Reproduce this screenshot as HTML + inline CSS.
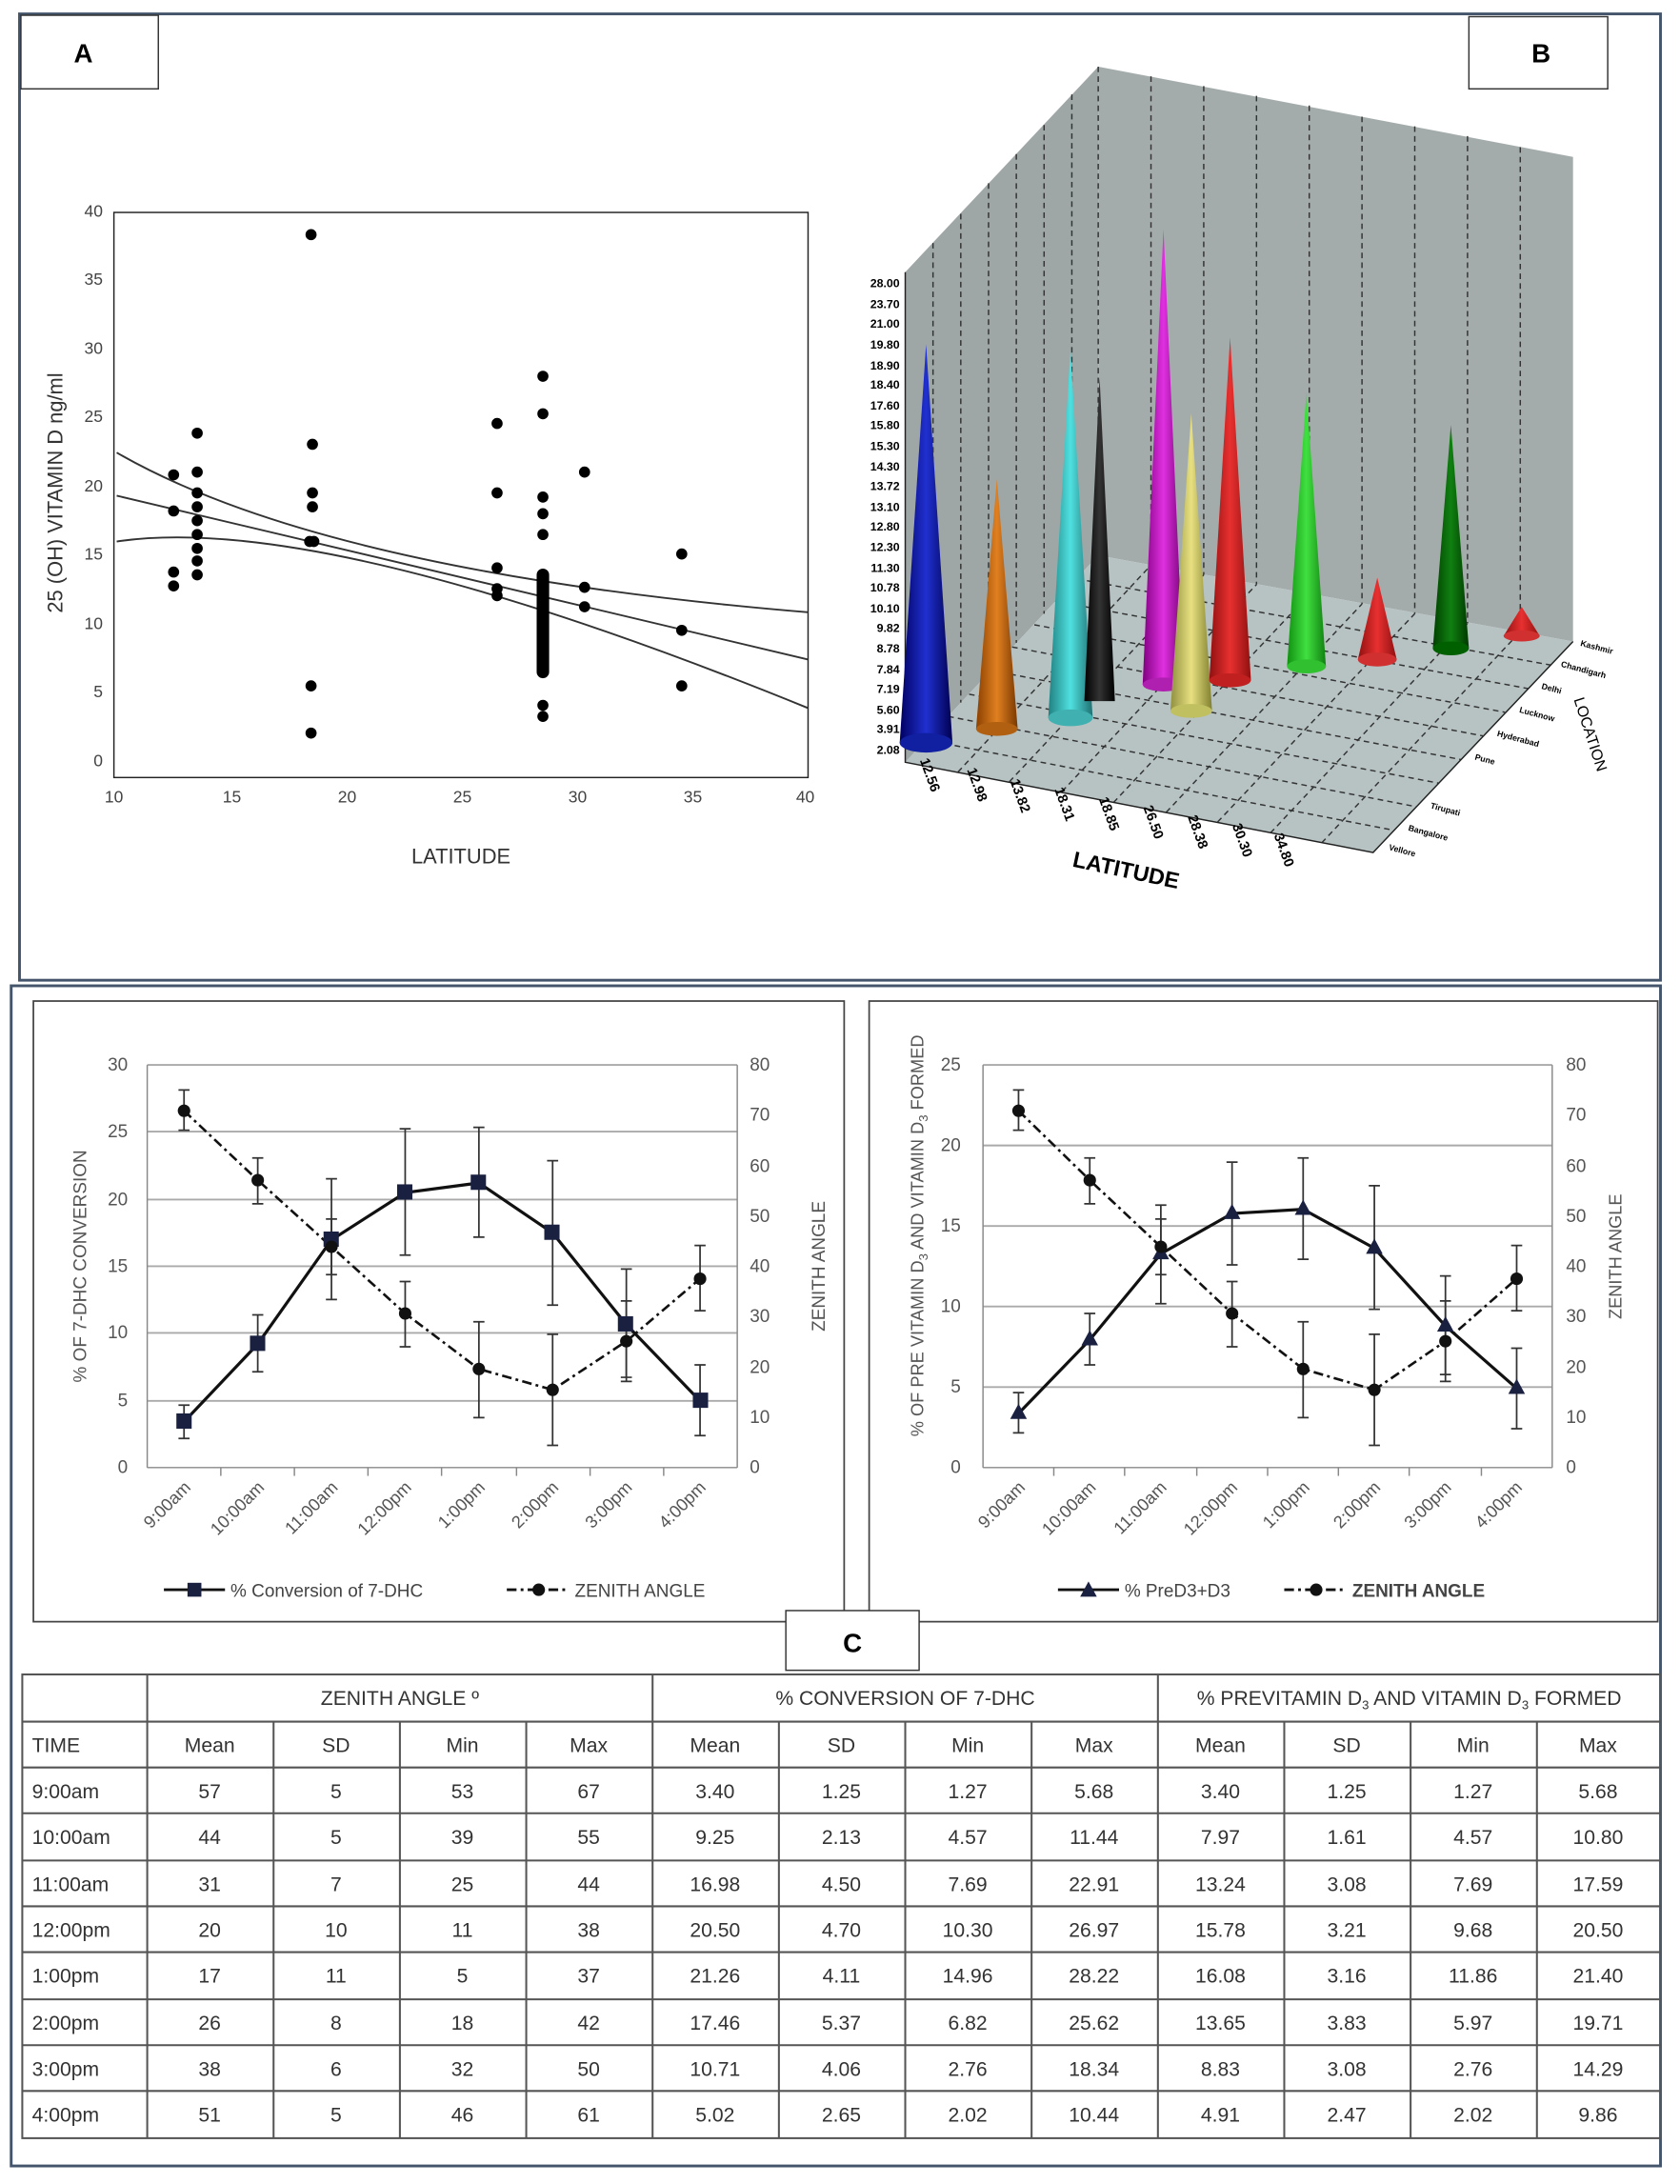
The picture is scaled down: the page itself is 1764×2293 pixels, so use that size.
<!DOCTYPE html>
<html><head><meta charset="utf-8"><style>
html,body{margin:0;padding:0;background:#fff}
svg{display:block}
</style></head><body>
<svg width="1764" height="2293" viewBox="0 0 1210 1573" xmlns="http://www.w3.org/2000/svg" font-family="'Liberation Sans',sans-serif">
<defs>
<linearGradient id="cb" x1="0" x2="1"><stop offset="0" stop-color="#000060"/><stop offset=".5" stop-color="#2030d0"/><stop offset="1" stop-color="#000050"/></linearGradient>
<linearGradient id="co" x1="0" x2="1"><stop offset="0" stop-color="#8a4000"/><stop offset=".5" stop-color="#e08020"/><stop offset="1" stop-color="#7a3800"/></linearGradient>
<linearGradient id="cc" x1="0" x2="1"><stop offset="0" stop-color="#208080"/><stop offset=".5" stop-color="#50e0e0"/><stop offset="1" stop-color="#207070"/></linearGradient>
<linearGradient id="ck" x1="0" x2="1"><stop offset="0" stop-color="#000"/><stop offset=".5" stop-color="#333"/><stop offset="1" stop-color="#000"/></linearGradient>
<linearGradient id="cm" x1="0" x2="1"><stop offset="0" stop-color="#800080"/><stop offset=".5" stop-color="#e030e0"/><stop offset="1" stop-color="#700070"/></linearGradient>
<linearGradient id="cy" x1="0" x2="1"><stop offset="0" stop-color="#909040"/><stop offset=".5" stop-color="#e8e080"/><stop offset="1" stop-color="#808030"/></linearGradient>
<linearGradient id="cr" x1="0" x2="1"><stop offset="0" stop-color="#901010"/><stop offset=".5" stop-color="#e83030"/><stop offset="1" stop-color="#901010"/></linearGradient>
<linearGradient id="cg" x1="0" x2="1"><stop offset="0" stop-color="#109010"/><stop offset=".5" stop-color="#40e040"/><stop offset="1" stop-color="#108010"/></linearGradient>
<linearGradient id="cd" x1="0" x2="1"><stop offset="0" stop-color="#004000"/><stop offset=".5" stop-color="#108010"/><stop offset="1" stop-color="#003800"/></linearGradient>
</defs>
<!-- top panel -->
<rect x="14" y="10" width="1182" height="696" fill="none" stroke="#44546a" stroke-width="2"/>
<rect x="15" y="11" width="99" height="53" fill="#fff" stroke="#333" stroke-width="1"/>
<text x="60" y="45" font-size="19" font-weight="bold" text-anchor="middle">A</text>
<rect x="1058" y="12" width="100" height="52" fill="#fff" stroke="#333" stroke-width="1"/>
<text x="1110" y="45" font-size="19" font-weight="bold" text-anchor="middle">B</text>

<!-- chart A -->
<rect x="82" y="153" width="500" height="407" fill="none" stroke="#222" stroke-width="1"/>
<g font-size="12" fill="#444" text-anchor="end">
<text x="74" y="552">0</text><text x="74" y="502">5</text><text x="74" y="453">10</text><text x="74" y="403">15</text><text x="74" y="354">20</text><text x="74" y="304">25</text><text x="74" y="255">30</text><text x="74" y="205">35</text><text x="74" y="156">40</text>
</g>
<g font-size="12" fill="#444" text-anchor="middle">
<text x="82" y="578">10</text><text x="167" y="578">15</text><text x="250" y="578">20</text><text x="333" y="578">25</text><text x="416" y="578">30</text><text x="499" y="578">35</text><text x="580" y="578">40</text>
</g>
<text x="332" y="622" font-size="15" fill="#333" text-anchor="middle">LATITUDE</text>
<text transform="translate(45,355) rotate(-90)" font-size="15" fill="#333" text-anchor="middle">25 (OH) VITAMIN D ng/ml</text>
<g fill="none" stroke="#333" stroke-width="1.3">
<path d="M84,357 L582,475"/>
<path d="M84,326 Q233,412 582,441"/>
<path d="M84,390 Q233,368 582,510"/>
</g>
<line x1="391" y1="414" x2="391" y2="484" stroke="#000" stroke-width="9" stroke-linecap="round"/>
<g fill="#000">
<circle cx="125" cy="342" r="4"/><circle cx="125" cy="368" r="4"/><circle cx="125" cy="412" r="4"/><circle cx="125" cy="422" r="4"/>
<circle cx="142" cy="312" r="4"/><circle cx="142" cy="340" r="4"/><circle cx="142" cy="355" r="4"/><circle cx="142" cy="365" r="4"/><circle cx="142" cy="375" r="4"/><circle cx="142" cy="385" r="4"/><circle cx="142" cy="395" r="4"/><circle cx="142" cy="404" r="4"/><circle cx="142" cy="414" r="4"/>
<circle cx="224" cy="169" r="4"/><circle cx="225" cy="320" r="4"/><circle cx="225" cy="355" r="4"/><circle cx="225" cy="365" r="4"/><circle cx="223" cy="390" r="4"/><circle cx="226" cy="390" r="4"/><circle cx="224" cy="494" r="4"/><circle cx="224" cy="528" r="4"/>
<circle cx="358" cy="305" r="4"/><circle cx="358" cy="355" r="4"/><circle cx="358" cy="409" r="4"/><circle cx="358" cy="424" r="4"/><circle cx="358" cy="429" r="4"/>
<circle cx="391" cy="271" r="4"/><circle cx="391" cy="298" r="4"/><circle cx="391" cy="358" r="4"/><circle cx="391" cy="370" r="4"/><circle cx="391" cy="385" r="4"/><circle cx="391" cy="508" r="4"/><circle cx="391" cy="516" r="4"/>
<circle cx="421" cy="340" r="4"/><circle cx="421" cy="423" r="4"/><circle cx="421" cy="437" r="4"/>
<circle cx="491" cy="399" r="4"/><circle cx="491" cy="454" r="4"/><circle cx="491" cy="494" r="4"/>
</g>

<!-- chart B -->
<polygon points="652,196 791,48 791,400 652,549" fill="#9ea6a6"/>
<polygon points="791,48 1133,113 1133,462 791,400" fill="#a4acab"/>
<polygon points="652,549 791,400 1133,462 989,614" fill="#b7c2c2"/>
<g stroke="#333" stroke-width="1" stroke-dasharray="4,3" fill="none">
<line x1="672" y1="175" x2="672" y2="527"/><line x1="692" y1="154" x2="692" y2="506"/><line x1="712" y1="132" x2="712" y2="485"/><line x1="732" y1="111" x2="732" y2="463"/><line x1="752" y1="90" x2="752" y2="442"/><line x1="772" y1="68" x2="772" y2="420"/>
<line x1="791" y1="48" x2="791" y2="400"/>
<line x1="829" y1="55" x2="829" y2="407"/><line x1="867" y1="62" x2="867" y2="414"/><line x1="905" y1="69" x2="905" y2="421"/><line x1="943" y1="76" x2="943" y2="428"/><line x1="981" y1="84" x2="981" y2="435"/><line x1="1019" y1="91" x2="1019" y2="442"/><line x1="1057" y1="98" x2="1057" y2="449"/><line x1="1095" y1="106" x2="1095" y2="455"/>
<line x1="690" y1="556" x2="829" y2="407"/><line x1="727" y1="563" x2="867" y2="414"/><line x1="765" y1="570" x2="905" y2="421"/><line x1="802" y1="578" x2="943" y2="428"/><line x1="840" y1="585" x2="981" y2="435"/><line x1="877" y1="592" x2="1019" y2="442"/><line x1="915" y1="600" x2="1057" y2="449"/><line x1="952" y1="607" x2="1095" y2="455"/>
<line x1="667" y1="533" x2="1004" y2="598"/><line x1="683" y1="516" x2="1020" y2="581"/><line x1="698" y1="500" x2="1036" y2="564"/><line x1="714" y1="483" x2="1052" y2="547"/><line x1="729" y1="466" x2="1068" y2="530"/><line x1="745" y1="450" x2="1084" y2="513"/><line x1="760" y1="433" x2="1101" y2="496"/><line x1="776" y1="417" x2="1117" y2="479"/>
</g>
<g stroke="#222" stroke-width="1" fill="none"><polyline points="652,196 652,549 989,614 1133,462"/></g>
<g font-size="8.5" font-weight="bold" text-anchor="end" fill="#000">
<text x="648" y="207">28.00</text><text x="648" y="222">23.70</text><text x="648" y="236">21.00</text><text x="648" y="251">19.80</text><text x="648" y="266">18.90</text><text x="648" y="280">18.40</text><text x="648" y="295">17.60</text><text x="648" y="309">15.80</text><text x="648" y="324">15.30</text><text x="648" y="339">14.30</text><text x="648" y="353">13.72</text><text x="648" y="368">13.10</text><text x="648" y="382">12.80</text><text x="648" y="397">12.30</text><text x="648" y="412">11.30</text><text x="648" y="426">10.78</text><text x="648" y="441">10.10</text><text x="648" y="455">9.82</text><text x="648" y="470">8.78</text><text x="648" y="485">7.84</text><text x="648" y="499">7.19</text><text x="648" y="514">5.60</text><text x="648" y="528">3.91</text><text x="648" y="543">2.08</text>
</g>
<!-- cones -->
<g>
<polygon points="667,248 648,535 686,535" fill="url(#cb)"/><ellipse cx="667" cy="535" rx="19" ry="7" fill="#1020a0"/>
<polygon points="718,345 703,525 733,525" fill="url(#co)"/><ellipse cx="718" cy="525" rx="15" ry="5" fill="#b06010"/>
<polygon points="771,252 755,517 787,517" fill="url(#cc)"/><ellipse cx="771" cy="517" rx="16" ry="6" fill="#40b0b0"/>
<polygon points="792,272 781,505 803,505" fill="url(#ck)"/>
<polygon points="838,165 823,493 853,493" fill="url(#cm)"/><ellipse cx="838" cy="493" rx="15" ry="5" fill="#b020b0"/>
<polygon points="858,298 843,512 873,512" fill="url(#cy)"/><ellipse cx="858" cy="512" rx="15" ry="5" fill="#c0c060"/>
<polygon points="886,243 871,490 901,490" fill="url(#cr)"/><ellipse cx="886" cy="490" rx="15" ry="5" fill="#c02020"/>
<polygon points="941,282 927,480 955,480" fill="url(#cg)"/><ellipse cx="941" cy="480" rx="14" ry="5" fill="#30c030"/>
<polygon points="992,416 978,475 1006,475" fill="url(#cr)"/><ellipse cx="992" cy="475" rx="14" ry="5" fill="#d03030"/>
<polygon points="1045,306 1032,467 1058,467" fill="url(#cd)"/><ellipse cx="1045" cy="467" rx="13" ry="5" fill="#006000"/>
<polygon points="1096,437 1083,458 1109,458" fill="url(#cr)"/><ellipse cx="1096" cy="458" rx="13" ry="4" fill="#d03030"/>
</g>
<g font-size="10" font-weight="bold" fill="#000">
<text transform="translate(671,571) rotate(70)" text-anchor="end">12.56</text>
<text transform="translate(705,578) rotate(70)" text-anchor="end">12.98</text>
<text transform="translate(736,586) rotate(70)" text-anchor="end">13.82</text>
<text transform="translate(768,592) rotate(70)" text-anchor="end">18.31</text>
<text transform="translate(800,599) rotate(70)" text-anchor="end">18.85</text>
<text transform="translate(832,605) rotate(70)" text-anchor="end">26.50</text>
<text transform="translate(864,612) rotate(70)" text-anchor="end">28.38</text>
<text transform="translate(896,618) rotate(70)" text-anchor="end">30.30</text>
<text transform="translate(926,625) rotate(70)" text-anchor="end">34.80</text>
</g>
<text transform="translate(810,632) rotate(12)" font-size="16" font-weight="bold" text-anchor="middle">LATITUDE</text>
<text transform="translate(1142,530) rotate(72)" font-size="11" text-anchor="middle">LOCATION</text>
<g font-size="6" font-weight="bold" fill="#000">
<text transform="translate(1000,612) rotate(15)">Vellore</text>
<text transform="translate(1014,598) rotate(15)">Bangalore</text>
<text transform="translate(1030,582) rotate(15)">Tirupati</text>
<text transform="translate(1062,547) rotate(15)">Pune</text>
<text transform="translate(1078,530) rotate(15)">Hyderabad</text>
<text transform="translate(1094,513) rotate(15)">Lucknow</text>
<text transform="translate(1110,496) rotate(15)">Delhi</text>
<text transform="translate(1124,480) rotate(15)">Chandigarh</text>
<text transform="translate(1138,465) rotate(15)">Kashmir</text>
</g>

<!-- bottom panel -->
<rect x="8" y="710" width="1188" height="850" fill="none" stroke="#44546a" stroke-width="2"/>
<rect x="24" y="721" width="584" height="447" fill="none" stroke="#444" stroke-width="1.2"/>
<rect x="626" y="721" width="568" height="447" fill="none" stroke="#444" stroke-width="1.2"/>

<!-- left chart C -->
<g stroke="#aaa" stroke-width="1.3">
<line x1="106" y1="1009" x2="531" y2="1009"/><line x1="106" y1="960" x2="531" y2="960"/><line x1="106" y1="912" x2="531" y2="912"/><line x1="106" y1="864" x2="531" y2="864"/><line x1="106" y1="815" x2="531" y2="815"/><line x1="106" y1="767" x2="531" y2="767"/>
</g>
<g stroke="#888" stroke-width="1">
<line x1="106" y1="767" x2="106" y2="1057"/><line x1="531" y1="767" x2="531" y2="1057"/><line x1="106" y1="1057" x2="531" y2="1057"/>
<line x1="159" y1="1057" x2="159" y2="1063"/><line x1="212" y1="1057" x2="212" y2="1063"/><line x1="265" y1="1057" x2="265" y2="1063"/><line x1="318" y1="1057" x2="318" y2="1063"/><line x1="372" y1="1057" x2="372" y2="1063"/><line x1="425" y1="1057" x2="425" y2="1063"/><line x1="478" y1="1057" x2="478" y2="1063"/>
</g>
<g font-size="13" fill="#555" text-anchor="end">
<text x="92" y="1061">0</text><text x="92" y="1013">5</text><text x="92" y="964">10</text><text x="92" y="916">15</text><text x="92" y="868">20</text><text x="92" y="819">25</text><text x="92" y="771">30</text>
</g>
<g font-size="13" fill="#555">
<text x="540" y="1061">0</text><text x="540" y="1025">10</text><text x="540" y="989">20</text><text x="540" y="952">30</text><text x="540" y="916">40</text><text x="540" y="880">50</text><text x="540" y="844">60</text><text x="540" y="807">70</text><text x="540" y="771">80</text>
</g>
<g font-size="12.5" fill="#555" text-anchor="end">
<text transform="translate(138,1072) rotate(-45)">9:00am</text>
<text transform="translate(191,1072) rotate(-45)">10:00am</text>
<text transform="translate(244,1072) rotate(-45)">11:00am</text>
<text transform="translate(297,1072) rotate(-45)">12:00pm</text>
<text transform="translate(350,1072) rotate(-45)">1:00pm</text>
<text transform="translate(403,1072) rotate(-45)">2:00pm</text>
<text transform="translate(456,1072) rotate(-45)">3:00pm</text>
<text transform="translate(509,1072) rotate(-45)">4:00pm</text>
</g>
<text transform="translate(62,912) rotate(-90)" font-size="13" fill="#555" text-anchor="middle">% OF 7-DHC CONVERSION</text>
<text transform="translate(594,912) rotate(-90)" font-size="13" fill="#555" text-anchor="middle">ZENITH ANGLE</text>
<g stroke="#333" stroke-width="1.2">
<path d="M132.5,1012v24M128.5,1012h8M128.5,1036h8 M185.6,947v41M181.6,947h8M181.6,988h8 M238.7,849v87M234.7,849h8M234.7,936h8 M291.8,813v91M287.8,813h8M287.8,904h8 M344.9,812v79M340.9,812h8M340.9,891h8 M398,836v104M394,836h8M394,940h8 M451.1,914v78M447.1,914h8M447.1,992h8 M504.2,983v51M500.2,983h8M500.2,1034h8"/>
<path d="M132.5,785v29M128.5,785h8M128.5,814h8 M185.6,834v33M181.6,834h8M181.6,867h8 M238.7,878v40M234.7,878h8M234.7,918h8 M291.8,923v47M287.8,923h8M287.8,970h8 M344.9,952v69M340.9,952h8M340.9,1021h8 M398,961v80M394,961h8M394,1041h8 M451.1,937v58M447.1,937h8M447.1,995h8 M504.2,897v47M500.2,897h8M500.2,944h8"/>
</g>
<polyline points="132.5,1024 185.6,968 238.7,893 291.8,859 344.9,852 398,888 451.1,954 504.2,1009" fill="none" stroke="#111" stroke-width="2.2"/>
<polyline points="132.5,800 185.6,850 238.7,898 291.8,946 344.9,986 398,1001 451.1,966 504.2,921" fill="none" stroke="#111" stroke-width="1.8" stroke-dasharray="7,3,2,3"/>
<g fill="#1a2040">
<rect x="127" y="1018" width="11" height="11"/><rect x="180" y="962" width="11" height="11"/><rect x="233" y="887" width="11" height="11"/><rect x="286" y="853" width="11" height="11"/><rect x="339" y="846" width="11" height="11"/><rect x="392" y="882" width="11" height="11"/><rect x="445" y="948" width="11" height="11"/><rect x="499" y="1003" width="11" height="11"/>
</g>
<g fill="#111">
<circle cx="132.5" cy="800" r="4.5"/><circle cx="185.6" cy="850" r="4.5"/><circle cx="238.7" cy="898" r="4.5"/><circle cx="291.8" cy="946" r="4.5"/><circle cx="344.9" cy="986" r="4.5"/><circle cx="398" cy="1001" r="4.5"/><circle cx="451.1" cy="966" r="4.5"/><circle cx="504.2" cy="921" r="4.5"/>
</g>
<line x1="118" y1="1145" x2="162" y2="1145" stroke="#111" stroke-width="2"/><rect x="135" y="1140" width="10" height="10" fill="#1a2040"/>
<text x="166" y="1150" font-size="13" fill="#444">% Conversion of 7-DHC</text>
<line x1="365" y1="1145" x2="409" y2="1145" stroke="#111" stroke-width="2" stroke-dasharray="7,3,2,3"/><circle cx="388" cy="1145" r="4.5" fill="#111"/>
<text x="414" y="1150" font-size="13" fill="#444">ZENITH ANGLE</text>

<!-- right chart C -->
<g stroke="#aaa" stroke-width="1.3">
<line x1="708" y1="999" x2="1118" y2="999"/><line x1="708" y1="941" x2="1118" y2="941"/><line x1="708" y1="883" x2="1118" y2="883"/><line x1="708" y1="825" x2="1118" y2="825"/><line x1="708" y1="767" x2="1118" y2="767"/>
</g>
<g stroke="#888" stroke-width="1">
<line x1="708" y1="767" x2="708" y2="1057"/><line x1="1118" y1="767" x2="1118" y2="1057"/><line x1="708" y1="1057" x2="1118" y2="1057"/>
<line x1="759" y1="1057" x2="759" y2="1063"/><line x1="810" y1="1057" x2="810" y2="1063"/><line x1="862" y1="1057" x2="862" y2="1063"/><line x1="913" y1="1057" x2="913" y2="1063"/><line x1="964" y1="1057" x2="964" y2="1063"/><line x1="1015" y1="1057" x2="1015" y2="1063"/><line x1="1067" y1="1057" x2="1067" y2="1063"/>
</g>
<g font-size="13" fill="#555" text-anchor="end">
<text x="692" y="1061">0</text><text x="692" y="1003">5</text><text x="692" y="945">10</text><text x="692" y="887">15</text><text x="692" y="829">20</text><text x="692" y="771">25</text>
</g>
<g font-size="13" fill="#555">
<text x="1128" y="1061">0</text><text x="1128" y="1025">10</text><text x="1128" y="989">20</text><text x="1128" y="952">30</text><text x="1128" y="916">40</text><text x="1128" y="880">50</text><text x="1128" y="844">60</text><text x="1128" y="807">70</text><text x="1128" y="771">80</text>
</g>
<g font-size="12.5" fill="#555" text-anchor="end">
<text transform="translate(739,1072) rotate(-45)">9:00am</text>
<text transform="translate(790,1072) rotate(-45)">10:00am</text>
<text transform="translate(841,1072) rotate(-45)">11:00am</text>
<text transform="translate(892,1072) rotate(-45)">12:00pm</text>
<text transform="translate(944,1072) rotate(-45)">1:00pm</text>
<text transform="translate(995,1072) rotate(-45)">2:00pm</text>
<text transform="translate(1046,1072) rotate(-45)">3:00pm</text>
<text transform="translate(1097,1072) rotate(-45)">4:00pm</text>
</g>
<text transform="translate(665,890) rotate(-90)" font-size="12.5" fill="#555" text-anchor="middle">% OF PRE VITAMIN D<tspan font-size="9" dy="3">3</tspan><tspan dy="-3"> AND  VITAMIN D</tspan><tspan font-size="9" dy="3">3</tspan><tspan dy="-3"> FORMED</tspan></text>
<text transform="translate(1168,905) rotate(-90)" font-size="12.5" fill="#555" text-anchor="middle">ZENITH ANGLE</text>
<g stroke="#333" stroke-width="1.2">
<path d="M733.6,1003v29M729.6,1003h8M729.6,1032h8 M784.9,946v37M780.9,946h8M780.9,983h8 M836.1,868v71M832.1,868h8M832.1,939h8 M887.4,837v74M883.4,837h8M883.4,911h8 M938.6,834v73M934.6,834h8M934.6,907h8 M989.9,854v89M985.9,854h8M985.9,943h8 M1041.1,919v71M1037.1,919h8M1037.1,990h8 M1092.4,971v58M1088.4,971h8M1088.4,1029h8"/>
<path d="M733.6,785v29M729.6,785h8M729.6,814h8 M784.9,834v33M780.9,834h8M780.9,867h8 M836.1,878v40M832.1,878h8M832.1,918h8 M887.4,923v47M883.4,923h8M883.4,970h8 M938.6,952v69M934.6,952h8M934.6,1021h8 M989.9,961v80M985.9,961h8M985.9,1041h8 M1041.1,937v58M1037.1,937h8M1037.1,995h8 M1092.4,897v47M1088.4,897h8M1088.4,944h8"/>
</g>
<polyline points="733.6,1018 784.9,965 836.1,903 887.4,874 938.6,871 989.9,899 1041.1,955 1092.4,1000" fill="none" stroke="#111" stroke-width="2.2"/>
<polyline points="733.6,800 784.9,850 836.1,898 887.4,946 938.6,986 989.9,1001 1041.1,966 1092.4,921" fill="none" stroke="#111" stroke-width="1.8" stroke-dasharray="7,3,2,3"/>
<g fill="#1a2040">
<polygon points="733.6,1011 727.6,1022 739.6,1022"/><polygon points="784.9,958 778.9,969 790.9,969"/><polygon points="836.1,896 830.1,907 842.1,907"/><polygon points="887.4,867 881.4,878 893.4,878"/><polygon points="938.6,864 932.6,875 944.6,875"/><polygon points="989.9,892 983.9,903 995.9,903"/><polygon points="1041.1,948 1035.1,959 1047.1,959"/><polygon points="1092.4,993 1086.4,1004 1098.4,1004"/>
</g>
<g fill="#111">
<circle cx="733.6" cy="800" r="4.5"/><circle cx="784.9" cy="850" r="4.5"/><circle cx="836.1" cy="898" r="4.5"/><circle cx="887.4" cy="946" r="4.5"/><circle cx="938.6" cy="986" r="4.5"/><circle cx="989.9" cy="1001" r="4.5"/><circle cx="1041.1" cy="966" r="4.5"/><circle cx="1092.4" cy="921" r="4.5"/>
</g>
<line x1="762" y1="1145" x2="806" y2="1145" stroke="#111" stroke-width="2"/><polygon points="784,1139 778,1150 790,1150" fill="#1a2040"/>
<text x="810" y="1150" font-size="13" fill="#444">% PreD3+D3</text>
<line x1="925" y1="1145" x2="969" y2="1145" stroke="#111" stroke-width="2" stroke-dasharray="7,3,2,3"/><circle cx="948" cy="1145" r="4.5" fill="#111"/>
<text x="974" y="1150" font-size="13" font-weight="bold" fill="#444">ZENITH ANGLE</text>

<rect x="566" y="1160" width="96" height="43" fill="#fff" stroke="#333" stroke-width="1"/>
<text x="614" y="1190" font-size="19" font-weight="bold" text-anchor="middle">C</text>

<!-- table -->
<g stroke="#555" stroke-width="1.4" fill="none">
<rect x="16" y="1206" width="1180" height="334"/>
<line x1="16" y1="1240" x2="1196" y2="1240"/><line x1="16" y1="1273" x2="1196" y2="1273"/><line x1="16" y1="1306" x2="1196" y2="1306"/><line x1="16" y1="1340" x2="1196" y2="1340"/><line x1="16" y1="1373" x2="1196" y2="1373"/><line x1="16" y1="1406" x2="1196" y2="1406"/><line x1="16" y1="1440" x2="1196" y2="1440"/><line x1="16" y1="1473" x2="1196" y2="1473"/><line x1="16" y1="1506" x2="1196" y2="1506"/>
<line x1="106" y1="1206" x2="106" y2="1540"/><line x1="470" y1="1206" x2="470" y2="1540"/><line x1="834" y1="1206" x2="834" y2="1540"/>
<line x1="197" y1="1240" x2="197" y2="1540"/><line x1="288" y1="1240" x2="288" y2="1540"/><line x1="379" y1="1240" x2="379" y2="1540"/><line x1="561" y1="1240" x2="561" y2="1540"/><line x1="652" y1="1240" x2="652" y2="1540"/><line x1="743" y1="1240" x2="743" y2="1540"/><line x1="925" y1="1240" x2="925" y2="1540"/><line x1="1016" y1="1240" x2="1016" y2="1540"/><line x1="1107" y1="1240" x2="1107" y2="1540"/>
</g>
<g font-size="14.5" fill="#333" font-family="'Liberation Sans Narrow','Liberation Sans',sans-serif">
<g text-anchor="middle">
<text x="288" y="1228">ZENITH ANGLE º</text>
<text x="652" y="1228">% CONVERSION OF 7-DHC</text>
<text x="1015" y="1228">% PREVITAMIN D<tspan font-size="9" dy="3">3</tspan><tspan dy="-3"> AND VITAMIN D</tspan><tspan font-size="9" dy="3">3</tspan><tspan dy="-3"> FORMED</tspan></text>
</g>
<text x="23" y="1262">TIME</text>
<text x="23" y="1295">9:00am</text><text x="23" y="1328">10:00am</text><text x="23" y="1362">11:00am</text><text x="23" y="1395">12:00pm</text><text x="23" y="1428">1:00pm</text><text x="23" y="1462">2:00pm</text><text x="23" y="1495">3:00pm</text><text x="23" y="1528">4:00pm</text>
<g text-anchor="middle">
<text x="151" y="1262">Mean</text><text x="242" y="1262">SD</text><text x="333" y="1262">Min</text><text x="424" y="1262">Max</text><text x="515" y="1262">Mean</text><text x="606" y="1262">SD</text><text x="697" y="1262">Min</text><text x="788" y="1262">Max</text><text x="879" y="1262">Mean</text><text x="970" y="1262">SD</text><text x="1061" y="1262">Min</text><text x="1151" y="1262">Max</text>
<text x="151" y="1295">57</text><text x="242" y="1295">5</text><text x="333" y="1295">53</text><text x="424" y="1295">67</text><text x="515" y="1295">3.40</text><text x="606" y="1295">1.25</text><text x="697" y="1295">1.27</text><text x="788" y="1295">5.68</text><text x="879" y="1295">3.40</text><text x="970" y="1295">1.25</text><text x="1061" y="1295">1.27</text><text x="1151" y="1295">5.68</text>
<text x="151" y="1328">44</text><text x="242" y="1328">5</text><text x="333" y="1328">39</text><text x="424" y="1328">55</text><text x="515" y="1328">9.25</text><text x="606" y="1328">2.13</text><text x="697" y="1328">4.57</text><text x="788" y="1328">11.44</text><text x="879" y="1328">7.97</text><text x="970" y="1328">1.61</text><text x="1061" y="1328">4.57</text><text x="1151" y="1328">10.80</text>
<text x="151" y="1362">31</text><text x="242" y="1362">7</text><text x="333" y="1362">25</text><text x="424" y="1362">44</text><text x="515" y="1362">16.98</text><text x="606" y="1362">4.50</text><text x="697" y="1362">7.69</text><text x="788" y="1362">22.91</text><text x="879" y="1362">13.24</text><text x="970" y="1362">3.08</text><text x="1061" y="1362">7.69</text><text x="1151" y="1362">17.59</text>
<text x="151" y="1395">20</text><text x="242" y="1395">10</text><text x="333" y="1395">11</text><text x="424" y="1395">38</text><text x="515" y="1395">20.50</text><text x="606" y="1395">4.70</text><text x="697" y="1395">10.30</text><text x="788" y="1395">26.97</text><text x="879" y="1395">15.78</text><text x="970" y="1395">3.21</text><text x="1061" y="1395">9.68</text><text x="1151" y="1395">20.50</text>
<text x="151" y="1428">17</text><text x="242" y="1428">11</text><text x="333" y="1428">5</text><text x="424" y="1428">37</text><text x="515" y="1428">21.26</text><text x="606" y="1428">4.11</text><text x="697" y="1428">14.96</text><text x="788" y="1428">28.22</text><text x="879" y="1428">16.08</text><text x="970" y="1428">3.16</text><text x="1061" y="1428">11.86</text><text x="1151" y="1428">21.40</text>
<text x="151" y="1462">26</text><text x="242" y="1462">8</text><text x="333" y="1462">18</text><text x="424" y="1462">42</text><text x="515" y="1462">17.46</text><text x="606" y="1462">5.37</text><text x="697" y="1462">6.82</text><text x="788" y="1462">25.62</text><text x="879" y="1462">13.65</text><text x="970" y="1462">3.83</text><text x="1061" y="1462">5.97</text><text x="1151" y="1462">19.71</text>
<text x="151" y="1495">38</text><text x="242" y="1495">6</text><text x="333" y="1495">32</text><text x="424" y="1495">50</text><text x="515" y="1495">10.71</text><text x="606" y="1495">4.06</text><text x="697" y="1495">2.76</text><text x="788" y="1495">18.34</text><text x="879" y="1495">8.83</text><text x="970" y="1495">3.08</text><text x="1061" y="1495">2.76</text><text x="1151" y="1495">14.29</text>
<text x="151" y="1528">51</text><text x="242" y="1528">5</text><text x="333" y="1528">46</text><text x="424" y="1528">61</text><text x="515" y="1528">5.02</text><text x="606" y="1528">2.65</text><text x="697" y="1528">2.02</text><text x="788" y="1528">10.44</text><text x="879" y="1528">4.91</text><text x="970" y="1528">2.47</text><text x="1061" y="1528">2.02</text><text x="1151" y="1528">9.86</text>
</g>
</g>
</svg>
</body></html>
